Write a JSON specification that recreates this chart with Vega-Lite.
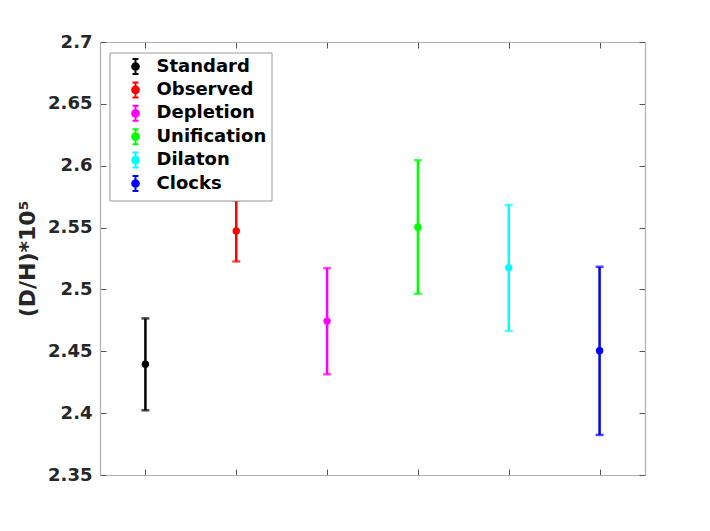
{
  "$schema": "https://vega.github.io/schema/vega-lite/v6.json",
  "width": 545,
  "height": 433,
  "autosize": "none",
  "padding": {"left": 100, "top": 42, "right": 65, "bottom": 56},
  "background": "white",
  "config": {
    "view": {"stroke": null},
    "font": "DejaVu Sans",
    "axis": {
      "domainColor": "#b0b0b0",
      "domainWidth": 1.2,
      "tickColor": "#555555",
      "tickWidth": 1,
      "tickSize": -6,
      "grid": false,
      "labelFont": "DejaVu Sans",
      "labelFontWeight": "bold",
      "labelFontSize": 18,
      "labelColor": "#262626",
      "titleFont": "DejaVu Sans",
      "titleFontWeight": "bold",
      "titleFontSize": 22,
      "titleColor": "#262626"
    }
  },
  "data": {
    "values": [
      {"model": "Standard", "pos": 1, "mid": 2.4395, "lo": 2.4023, "hi": 2.4766},
      {"model": "Observed", "pos": 2, "mid": 2.5473, "lo": 2.5226, "hi": 2.572},
      {"model": "Depletion", "pos": 3, "mid": 2.4744, "lo": 2.4314, "hi": 2.5172},
      {"model": "Unification", "pos": 4, "mid": 2.5503, "lo": 2.4965, "hi": 2.6044},
      {"model": "Dilaton", "pos": 5, "mid": 2.5175, "lo": 2.4664, "hi": 2.5683},
      {"model": "Clocks", "pos": 6, "mid": 2.4505, "lo": 2.3824, "hi": 2.5183}
    ]
  },
  "layer": [
    {
      "mark": {"type": "rule", "strokeWidth": 2.5},
      "encoding": {
        "x": {"field": "pos", "type": "quantitative", "scale": {"domain": [0.5, 6.5], "nice": false, "zero": false},
              "axis": {"orient": "bottom", "values": [1, 2, 3, 4, 5, 6], "labels": false, "title": null}},
        "y": {"field": "lo", "type": "quantitative", "scale": {"domain": [2.35, 2.7], "nice": false, "zero": false},
              "axis": {"orient": "left", "values": [2.35, 2.4, 2.45, 2.5, 2.55, 2.6, 2.65, 2.7], "format": "~g", "labelPadding": 14, "title": "(D/H)*10⁵", "titlePadding": 8}},
        "y2": {"field": "hi"},
        "color": {"field": "model", "type": "nominal",
          "scale": {"domain": ["Standard", "Observed", "Depletion", "Unification", "Dilaton", "Clocks"],
                    "range": ["#000000", "#ff0000", "#ff00ff", "#00ff00", "#00ffff", "#0000ff"]},
          "legend": {
            "orient": "none", "legendX": 9.5, "legendY": 10.5, "title": null,
            "strokeColor": "#999999", "fillColor": "white", "padding": 5,
            "symbolType": "M0,-1L0,1M-0.4,-1L0.4,-1M-0.4,1L0.4,1M-0.45,0A0.45,0.45 0 1,0 0.45,0A0.45,0.45 0 1,0 -0.45,0Z",
            "symbolSize": 225, "symbolStrokeWidth": 2, "symbolOffset": 12,
            "labelOffset": 12, "labelFont": "DejaVu Sans", "labelFontWeight": "bold", "labelFontSize": 18, "labelColor": "#000000",
            "rowPadding": -0.6,
            "encode": {"symbols": {"update": {"fill": {"scale": "color", "field": "value"}, "stroke": {"scale": "color", "field": "value"}, "fillOpacity": {"value": 1}, "strokeOpacity": {"value": 1}}}}
          }}
      }
    },
    {
      "mark": {"type": "tick", "orient": "horizontal", "size": 8, "thickness": 2.5},
      "encoding": {
        "x": {"field": "pos", "type": "quantitative",
              "axis": {"orient": "top", "values": [1, 2, 3, 4, 5, 6], "labels": false, "title": null}},
        "y": {"field": "lo", "type": "quantitative",
              "axis": {"orient": "right", "values": [2.35, 2.4, 2.45, 2.5, 2.55, 2.6, 2.65, 2.7], "labels": false, "title": null}},
        "color": {"field": "model", "type": "nominal"}
      }
    },
    {
      "mark": {"type": "tick", "orient": "horizontal", "size": 8, "thickness": 2.5},
      "encoding": {
        "x": {"field": "pos", "type": "quantitative", "axis": null},
        "y": {"field": "hi", "type": "quantitative", "axis": null},
        "color": {"field": "model", "type": "nominal"}
      }
    },
    {
      "mark": {"type": "point", "filled": true, "opacity": 1, "size": 55},
      "encoding": {
        "x": {"field": "pos", "type": "quantitative", "axis": null},
        "y": {"field": "mid", "type": "quantitative", "axis": null},
        "color": {"field": "model", "type": "nominal"}
      }
    }
  ],
  "resolve": {"scale": {"x": "shared", "y": "shared", "color": "shared"}, "axis": {"x": "independent", "y": "independent"}}
}
